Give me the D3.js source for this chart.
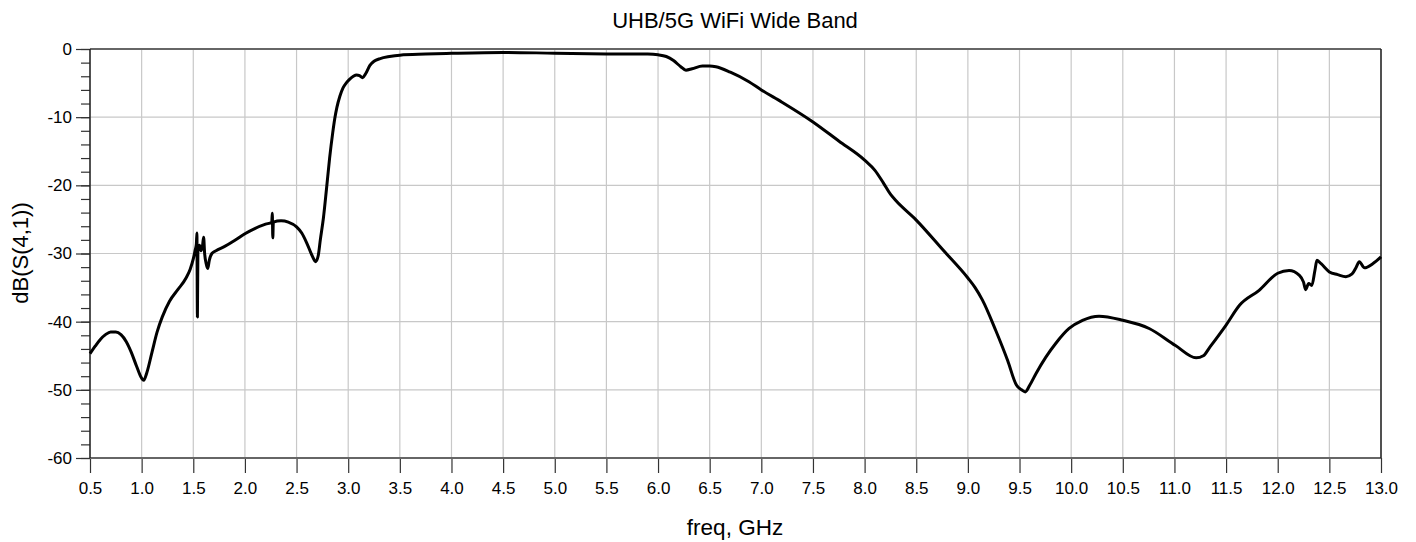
<!DOCTYPE html>
<html>
<head>
<meta charset="utf-8">
<script src="https://cdn.jsdelivr.net/npm/d3@7"></script>
<style>
  html, body { margin: 0; padding: 0; background: #fff; }
  svg { display: block; font-family: "Liberation Sans", Arial, Helvetica, sans-serif; }
</style>
</head>
<body>
<svg id="chart" width="1416" height="542"></svg>
<script>
const title = "UHB/5G WiFi Wide Band";
const xLabel = "freq, GHz";
const yLabel = "dB(S(4,1))";
const xTicks = [0.5,1.0,1.5,2.0,2.5,3.0,3.5,4.0,4.5,5.0,5.5,6.0,6.5,7.0,7.5,8.0,8.5,9.0,9.5,10.0,10.5,11.0,11.5,12.0,12.5,13.0];
const yTicks = [0,-10,-20,-30,-40,-50,-60];
const yMinorTicks = d3.range(-60, 0.1, 2);

const freq = [
  0.5,0.55,0.6,0.65,0.7,0.75,0.8,0.85,0.9,0.95,1.0,1.02,1.05,1.1,1.15,1.2,1.27,1.35,1.43,1.47,1.5,1.52,1.53,
  1.535,1.54,1.545,1.56,1.575,1.59,1.6,1.61,1.625,1.64,1.655,1.68,1.72,1.8,1.9,2.0,2.1,2.2,2.26,2.265,2.27,2.275,
  2.35,2.42,2.5,2.55,2.6,2.65,2.685,2.71,2.73,2.76,2.79,2.82,2.85,2.87,2.89,2.92,2.95,2.98,3.01,3.05,3.08,3.11,3.14,3.17,3.21,
  3.25,3.31,3.4,3.5,3.75,4.0,4.5,5.0,5.5,5.9,6.0,6.08,6.15,6.22,6.27,6.33,6.43,6.5,6.56,6.7,6.88,7.0,7.2,7.5,
  7.75,8.0,8.1,8.18,8.25,8.3,8.5,8.76,9.0,9.07,9.14,9.27,9.385,9.47,9.52,9.555,9.6,9.66,9.755,9.85,9.98,10.11,10.27,
  10.5,10.755,11.01,11.21,11.28,11.34,11.5,11.63,11.82,12.0,12.11,12.21,12.25,12.27,12.3,12.33,12.36,12.38,12.42,
  12.5,12.58,12.66,12.72,12.76,12.79,12.84,12.92,13.0
];
const s41 = [
  -44.7,-43.6,-42.6,-41.9,-41.5,-41.5,-41.9,-42.9,-44.5,-46.5,-48.3,-48.6,-47.5,-44.5,-41.5,-39.3,-37.0,-35.3,-33.6,-32.3,-30.8,-29.4,-28.6,
  -27.0,-39.3,-29.0,-28.8,-29.6,-28.8,-27.6,-30.0,-31.5,-32.2,-31.0,-30.0,-29.6,-29.0,-28.1,-27.1,-26.3,-25.7,-25.4,-24.1,-27.7,-25.4,
  -25.2,-25.4,-26.1,-27.0,-28.5,-30.3,-31.2,-30.3,-28.0,-24.8,-20.5,-16.0,-12.3,-10.2,-8.6,-6.9,-5.7,-5.0,-4.5,-4.0,-3.8,-3.9,-4.2,-3.6,-2.4,
  -1.8,-1.4,-1.1,-0.9,-0.75,-0.64,-0.5,-0.62,-0.72,-0.75,-0.85,-1.1,-1.7,-2.6,-3.1,-2.9,-2.5,-2.5,-2.6,-3.4,-4.8,-6.0,-7.8,-10.7,
  -13.5,-16.3,-17.8,-19.6,-21.3,-22.2,-25.1,-29.5,-33.6,-35.0,-36.8,-41.3,-45.7,-49.3,-50.0,-50.3,-49.3,-47.6,-45.2,-43.2,-41.0,-39.8,-39.2,
  -39.8,-41.0,-43.5,-45.3,-45.0,-43.8,-40.5,-37.6,-35.4,-32.9,-32.5,-33.2,-34.2,-35.3,-34.4,-34.7,-32.5,-31.0,-31.5,
  -32.7,-33.1,-33.4,-33.0,-32.0,-31.2,-32.1,-31.5,-30.5
];

const svg = d3.select("#chart");
const L = 90, R = 1381, T = 49, B = 458;
const x = d3.scaleLinear().domain([0.5, 13]).range([L, R]);
const y = d3.scaleLinear().domain([-60, 0]).range([B, T]);

// grid
const grid = svg.append("g").attr("stroke", "#c8c8c8").attr("stroke-width", 1.2);
grid.selectAll("line.v").data(xTicks).join("line")
  .attr("x1", d => x(d)).attr("x2", d => x(d)).attr("y1", T).attr("y2", B);
grid.selectAll("line.h").data(yTicks).join("line")
  .attr("y1", d => y(d)).attr("y2", d => y(d)).attr("x1", L).attr("x2", R);

// minor y ticks
const minor = svg.append("g").attr("transform", `translate(${L},0)`)
  .call(d3.axisLeft(y).tickValues(yMinorTicks).tickSize(9).tickFormat(""));
minor.select(".domain").remove();
minor.selectAll("line").attr("stroke", "#333").attr("stroke-width", 1.2);

// major y axis
const yAx = svg.append("g").attr("transform", `translate(${L},0)`)
  .call(d3.axisLeft(y).tickValues(yTicks).tickSize(14).tickPadding(4).tickFormat(d => String(d)));
yAx.select(".domain").remove();
yAx.selectAll("line").attr("stroke", "#333").attr("stroke-width", 1.2);
yAx.selectAll("text").attr("font-size", 17).attr("fill", "#000")
  .attr("font-family", "'Liberation Sans', Arial, sans-serif");

// x axis
const xAx = svg.append("g").attr("transform", `translate(0,${B})`)
  .call(d3.axisBottom(x).tickValues(xTicks).tickSize(15).tickPadding(9).tickFormat(d3.format(".1f")));
xAx.select(".domain").remove();
xAx.selectAll("line").attr("stroke", "#333").attr("stroke-width", 1.2);
xAx.selectAll("text").attr("font-size", 17).attr("fill", "#000")
  .attr("font-family", "'Liberation Sans', Arial, sans-serif");

// frame
svg.append("line").attr("x1", L).attr("x2", R).attr("y1", T).attr("y2", T).attr("stroke", "#666").attr("stroke-width", 2);
svg.append("line").attr("x1", L).attr("x2", R).attr("y1", B).attr("y2", B).attr("stroke", "#666").attr("stroke-width", 2);
svg.append("line").attr("x1", L).attr("x2", L).attr("y1", T).attr("y2", B).attr("stroke", "#222").attr("stroke-width", 1.5);
svg.append("line").attr("x1", R).attr("x2", R).attr("y1", T).attr("y2", B).attr("stroke", "#222").attr("stroke-width", 1.5);

// curve
const pts = freq.map((f, i) => [f, s41[i]]);
svg.append("path").datum(pts)
  .attr("fill", "none").attr("stroke", "#000").attr("stroke-width", 3)
  .attr("stroke-linejoin", "round")
  .attr("d", d3.line().x(d => x(d[0])).y(d => y(d[1])).curve(d3.curveMonotoneX));

// labels
svg.append("text").attr("x", 735).attr("y", 28).attr("text-anchor", "middle")
  .attr("font-size", 22).attr("fill", "#000").text(title);
svg.append("text").attr("x", 735).attr("y", 535).attr("text-anchor", "middle")
  .attr("font-size", 22.5).attr("fill", "#000").text(xLabel);
svg.append("text").attr("transform", "translate(28,253) rotate(-90)").attr("text-anchor", "middle")
  .attr("font-size", 22).attr("fill", "#000").text(yLabel);
</script>
</body>
</html>
